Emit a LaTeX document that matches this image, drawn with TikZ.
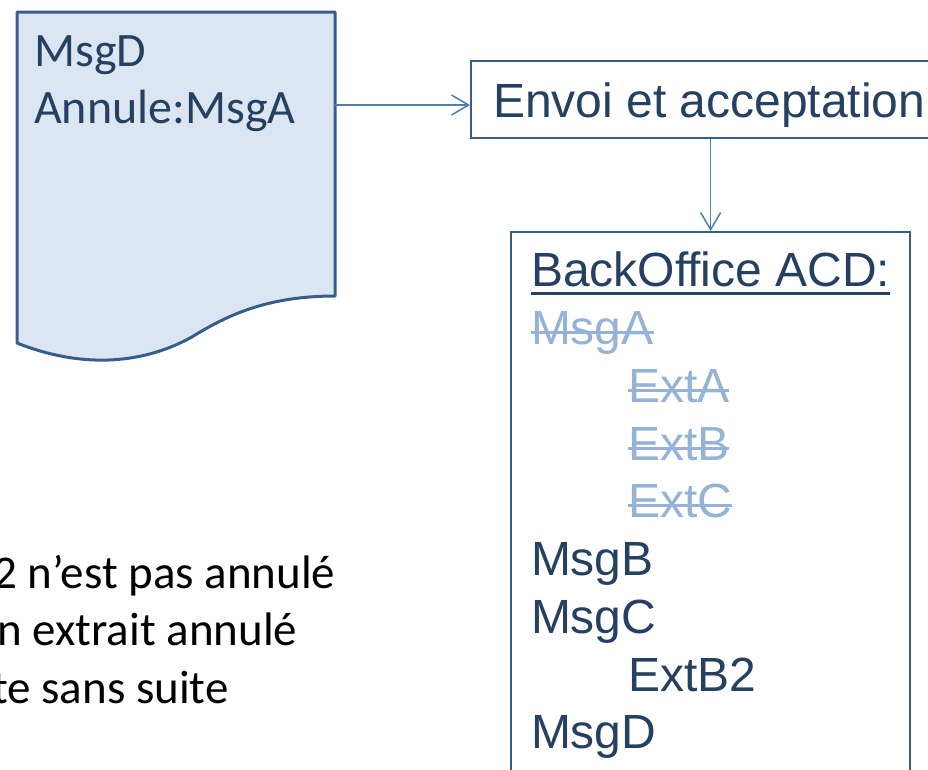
\documentclass[tikz,border=0pt]{standalone}
\usepackage{fontspec}
\setmainfont{Liberation Sans}
\newfontfamily\calibri{Carlito}
\usetikzlibrary{arrows.meta}
\definecolor{txtblue}{HTML}{254061}
\definecolor{lineblue}{HTML}{385D8A}
\definecolor{arrowblue}{HTML}{4A7EBB}
\definecolor{docfill}{HTML}{DCE6F2}
\definecolor{gone}{HTML}{95B3D7}
\newlength{\marklen}
\newcommand{\gonetxt}[1]{\leavevmode{\color{gone}\settowidth{\marklen}{#1}\rlap{\rule[10.5pt]{\marklen}{3pt}}#1}}
\newcommand{\ultxt}[1]{\leavevmode\settowidth{\marklen}{#1}\rlap{\rule[-8.5pt]{\marklen}{3pt}}#1}
\newcommand{\ind}{\hspace*{97pt}}

\tikzset{
  box/.style={draw=lineblue,line width=2pt,text=txtblue,inner xsep=20pt,inner ysep=20pt,font=\fontsize{48}{57.75}\selectfont},
  link/.style={draw=arrowblue,line width=1.5pt,->,>={Straight Barb[length=17pt,width=20pt]}},
  note/.style={anchor=base west,inner sep=0pt,font=\calibri\fontsize{47}{55}\selectfont},
}

\begin{document}
\begin{tikzpicture}[x=1pt,y=-1pt]
    \path[use as bounding box] (0,0) rectangle (928,769);
    \clip (0,0) rectangle (928,769);
    % document
    \draw[draw=lineblue,fill=docfill,line width=3pt,line join=round]
        (17,12) -- (335,12) -- (335,296)
        .. controls (260,296) and (220,320) .. (190,338)
        .. controls (140,365) and (80,368) .. (17,343) -- cycle;
    \node[note,text=txtblue,font=\calibri\fontsize{48}{55}\selectfont] (msgd) at (34,66) {MsgD};
    \node[note,text=txtblue,font=\calibri\fontsize{48}{55}\selectfont] (annule) at (34,123) {Annule:MsgA};
    \coordinate (docR) at (335,105);
    % boxes
    \node[box,anchor=north west,minimum height=77pt,text height=36pt,text depth=0pt,inner xsep=22pt,inner ysep=20.5pt] (envoi) at (470,60) {Envoi et acceptation};
    \node[box,anchor=north west,minimum width=399pt,align=left] (backoffice) at (510,231)
        {\ultxt{BackOffice ACD:}\\
         \gonetxt{MsgA}\\
         \ind\gonetxt{ExtA}\\
         \ind\gonetxt{ExtB}\\
         \ind\gonetxt{ExtC}\\
         MsgB\\
         MsgC\\
         \ind ExtB2\\
         MsgD};
    \path (docR) edge[link] (docR -| envoi.west);
    \path (backoffice.north |- envoi.south) edge[link] (backoffice.north);
    % remarks
    \node[note] (rem1) at (-7,588) {2 n’est pas annulé};
    \node[note] (rem2) at (-3,645) {n extrait annulé};
    \node[note] (rem3) at (-8,703) {te sans suite};
\end{tikzpicture}
\end{document}
